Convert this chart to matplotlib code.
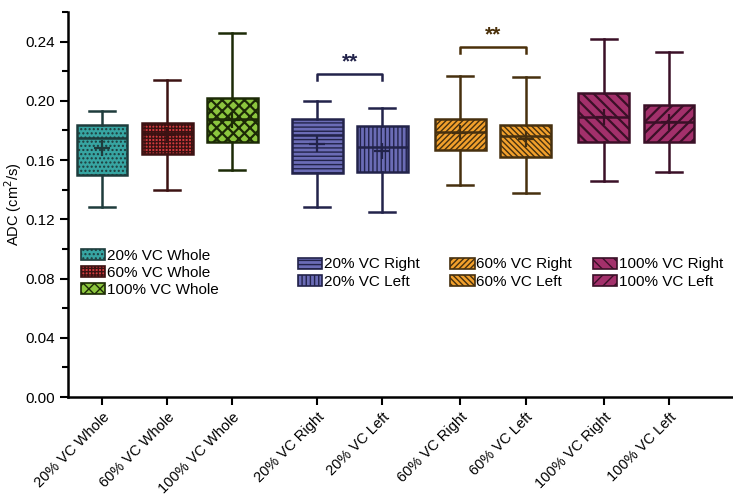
import matplotlib
matplotlib.use("Agg")
import matplotlib.pyplot as plt
from matplotlib.patches import Patch
from matplotlib.ticker import MultipleLocator

plt.rcParams['font.family'] = ['Liberation Sans', 'DejaVu Sans']

# data
labels = ['20% VC Whole', '60% VC Whole', '100% VC Whole',
          '20% VC Right', '20% VC Left',
          '60% VC Right', '60% VC Left',
          '100% VC Right', '100% VC Left']
positions = [1, 2, 3, 4.3, 5.3, 6.5, 7.5, 8.7, 9.7]
whislo = [0.128, 0.140, 0.153, 0.128, 0.125, 0.143, 0.138, 0.146, 0.152]
q1 = [0.150, 0.164, 0.172, 0.151, 0.152, 0.167, 0.162, 0.172, 0.172]
med = [0.175, 0.178, 0.188, 0.177, 0.169, 0.179, 0.176, 0.189, 0.186]
q3 = [0.184, 0.185, 0.202, 0.188, 0.183, 0.188, 0.184, 0.205, 0.197]
whishi = [0.193, 0.214, 0.246, 0.200, 0.195, 0.217, 0.216, 0.242, 0.233]
means = [0.168, 0.177, 0.187, 0.171, 0.166, 0.178, 0.174, 0.189, 0.186]

faces = ['#37a5a2', '#d23a3e', '#8cc63e', '#6b6cb6', '#6b6cb6',
         '#f2a02c', '#f2a02c', '#a3306b', '#a3306b']
edges = ['#1e3c3c', '#3c1212', '#1c2a06', '#22234a', '#22234a',
         '#46300f', '#46300f', '#3a1027', '#3a1027']
hatches = ['....', '+++++', 'xxx', '----', '||||', '//////', '\\\\\\\\\\\\', '\\\\\\', '///']

# significance brackets
sig_pairs = [(3, 4), (5, 6)]
sig_height = [0.218, 0.236]
sig_color = ['#22234a', '#4a300a']

fig = plt.figure(figsize=(7.33, 4.97), dpi=100)
ax = fig.add_axes([0.093, 0.201, 0.905, 0.775])

stats = []
for i in range(len(labels)):
    stats.append({'whislo': whislo[i], 'q1': q1[i], 'med': med[i],
                  'q3': q3[i], 'whishi': whishi[i], 'mean': means[i],
                  'fliers': [], 'label': labels[i]})

for i, s in enumerate(stats):
    res = ax.bxp([s], positions=[positions[i]], widths=0.78, capwidths=0.4,
                 patch_artist=True, showmeans=True, showfliers=False,
                 boxprops=dict(facecolor=faces[i], edgecolor=edges[i],
                               linewidth=1.8, hatch=hatches[i]),
                 medianprops=dict(color=edges[i], linewidth=1.8),
                 whiskerprops=dict(color=edges[i], linewidth=1.8),
                 capprops=dict(color=edges[i], linewidth=1.8),
                 meanprops=dict(marker='+', markersize=12, markeredgewidth=1.6,
                                markeredgecolor=edges[i]))
    box = res['boxes'][0]
    if hasattr(box, 'set_hatch_linewidth'):
        box.set_hatch_linewidth(1.6 if i in (2, 7, 8) else 1.0)

for k, (a, b) in enumerate(sig_pairs):
    h = sig_height[k]
    xa, xb = positions[a], positions[b]
    ax.plot([xa, xa, xb, xb], [h - 0.004, h, h, h - 0.004],
            color=sig_color[k], lw=1.8)
    ax.text((xa + xb) / 2, h + 0.002, '**', ha='center', va='bottom',
            fontsize=15, fontweight='bold', color=sig_color[k])

ax.set_xlim(0.48, 10.66)
ax.set_ylim(0, 0.26)
ax.set_xticks(positions)
ax.set_xticklabels(labels, rotation=45, ha='right', rotation_mode='anchor',
                   fontsize=10.5)
ax.yaxis.set_minor_locator(MultipleLocator(0.02))
ax.set_yticks([0, 0.04, 0.08, 0.12, 0.16, 0.20, 0.24])
ax.set_yticklabels(['0.00', '0.04', '0.08', '0.12', '0.16', '0.20', '0.24'],
                   fontsize=11)
ax.set_ylabel('ADC (cm$^2$/s)', fontsize=10.5, labelpad=1)
ax.tick_params(axis='both', which='major', length=6, width=1.5, direction='out')
ax.tick_params(axis='y', which='minor', length=4, width=1.5, direction='out')
for sp in ('top', 'right'):
    ax.spines[sp].set_visible(False)
for sp in ('left', 'bottom'):
    ax.spines[sp].set_linewidth(1.8)

# legends
groups = [[0, 1, 2], [3, 4], [5, 6], [7, 8]]
anchors = [(0.110, 0.500), (0.406, 0.482), (0.614, 0.482), (0.809, 0.482)]
for g, anc in zip(groups, anchors):
    handles = []
    for i in g:
        p = Patch(facecolor=faces[i], edgecolor=edges[i], hatch=hatches[i],
                  linewidth=1.2, label=labels[i])
        handles.append(p)
    fig.legend(handles=handles, loc='upper left', bbox_to_anchor=anc,
               frameon=False, fontsize=11, handlelength=1.6,
               handleheight=0.75, handletextpad=0.1, labelspacing=0.2,
               borderpad=0, borderaxespad=0)

fig.savefig('out.png', dpi=100)
